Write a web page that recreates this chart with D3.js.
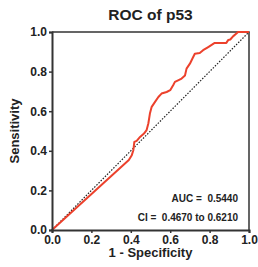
<!DOCTYPE html>
<html>
<head>
<meta charset="utf-8">
<script src="https://cdn.jsdelivr.net/npm/d3@7"></script>
<style>
  body { margin: 0; background: #fff; }
  text { font-family: "Liberation Sans", Arial, sans-serif; font-weight: bold; fill: #222; }
</style>
</head>
<body>
<svg id="chart" width="258" height="267"></svg>
<script>
// ROC curve points (1 - specificity, sensitivity)
const fpr = [0, 0.39, 0.405, 0.413, 0.418, 0.43, 0.447, 0.467, 0.48, 0.489, 0.497, 0.506, 0.523, 0.54, 0.556, 0.582, 0.6, 0.615, 0.624, 0.64, 0.658, 0.675, 0.683, 0.7, 0.713, 0.725, 0.75, 0.767, 0.793, 0.826, 0.885, 0.895, 0.905, 0.919, 0.936, 0.944, 1.0];
const tpr = [0, 0.353, 0.378, 0.403, 0.445, 0.45, 0.47, 0.487, 0.504, 0.538, 0.588, 0.622, 0.647, 0.672, 0.689, 0.697, 0.706, 0.731, 0.748, 0.756, 0.765, 0.78, 0.815, 0.84, 0.866, 0.89, 0.894, 0.908, 0.924, 0.945, 0.945, 0.96, 0.962, 0.978, 0.992, 1.0, 1.0];
const tickValues = [0, 0.2, 0.4, 0.6, 0.8, 1.0];
const title = "ROC of p53";
const xLabel = "1 - Specificity";
const yLabel = "Sensitivity";
const statLines = ["AUC =  0.5440", "CI =  0.4670 to 0.6210"];

const svg = d3.select("#chart");
const mLeft = 52, mRight = 249, mTop = 32, mBottom = 230;

const x = d3.scaleLinear().domain([0, 1]).range([mLeft, mRight]);
const y = d3.scaleLinear().domain([0, 1]).range([mBottom, mTop]);

// frame (top and right)
svg.append("path")
  .attr("d", `M${mLeft},${mTop}H${mRight}V${mBottom}`)
  .attr("fill", "none")
  .attr("stroke", "#333")
  .attr("stroke-width", 1.5);

// diagonal reference
svg.append("line")
  .attr("x1", x(0)).attr("y1", y(0))
  .attr("x2", x(1)).attr("y2", y(1))
  .attr("stroke", "#222")
  .attr("stroke-width", 1.2)
  .attr("stroke-dasharray", "1.5,1.5");

// ROC curve
const pts = fpr.map((d, i) => [d, tpr[i]]);
svg.append("path")
  .datum(pts)
  .attr("fill", "none")
  .attr("stroke", "#ec412c")
  .attr("stroke-width", 2)
  .attr("stroke-linejoin", "round")
  .attr("d", d3.line().x(d => x(d[0])).y(d => y(d[1])));

// axes
const fmt = d3.format(".1f");
const xAxis = svg.append("g")
  .attr("transform", `translate(0,${mBottom})`)
  .call(d3.axisBottom(x).tickValues(tickValues).tickFormat(fmt).tickSize(3).tickPadding(2));
const yAxis = svg.append("g")
  .attr("transform", `translate(${mLeft},0)`)
  .call(d3.axisLeft(y).tickValues(tickValues).tickFormat(fmt).tickSize(3).tickPadding(2));

[xAxis, yAxis].forEach(g => {
  g.select(".domain").attr("stroke", "#333").attr("stroke-width", 2);
  g.selectAll(".tick line").attr("stroke", "#333").attr("stroke-width", 1.5);
  g.selectAll(".tick text")
    .attr("fill", "#222")
    .style("font-size", "12px")
    .style("font-family", "'Liberation Sans', Arial, sans-serif")
    .style("font-weight", "bold");
});

// title
svg.append("text")
  .attr("x", (mLeft + mRight) / 2)
  .attr("y", 20)
  .attr("text-anchor", "middle")
  .style("font-size", "15.5px")
  .text(title);

// axis labels
svg.append("text")
  .attr("x", (mLeft + mRight) / 2)
  .attr("y", 257)
  .attr("text-anchor", "middle")
  .style("font-size", "13px")
  .text(xLabel);

svg.append("text")
  .attr("transform", `translate(19,${(mTop + mBottom) / 2}) rotate(-90)`)
  .attr("text-anchor", "middle")
  .style("font-size", "13px")
  .text(yLabel);

// stats
svg.selectAll(".stat")
  .data(statLines)
  .enter()
  .append("text")
  .attr("class", "stat")
  .attr("x", 238)
  .attr("y", (d, i) => 202 + i * 19)
  .attr("text-anchor", "end")
  .style("font-size", "10px")
  .style("white-space", "pre")
  .text(d => d);
</script>
</body>
</html>
